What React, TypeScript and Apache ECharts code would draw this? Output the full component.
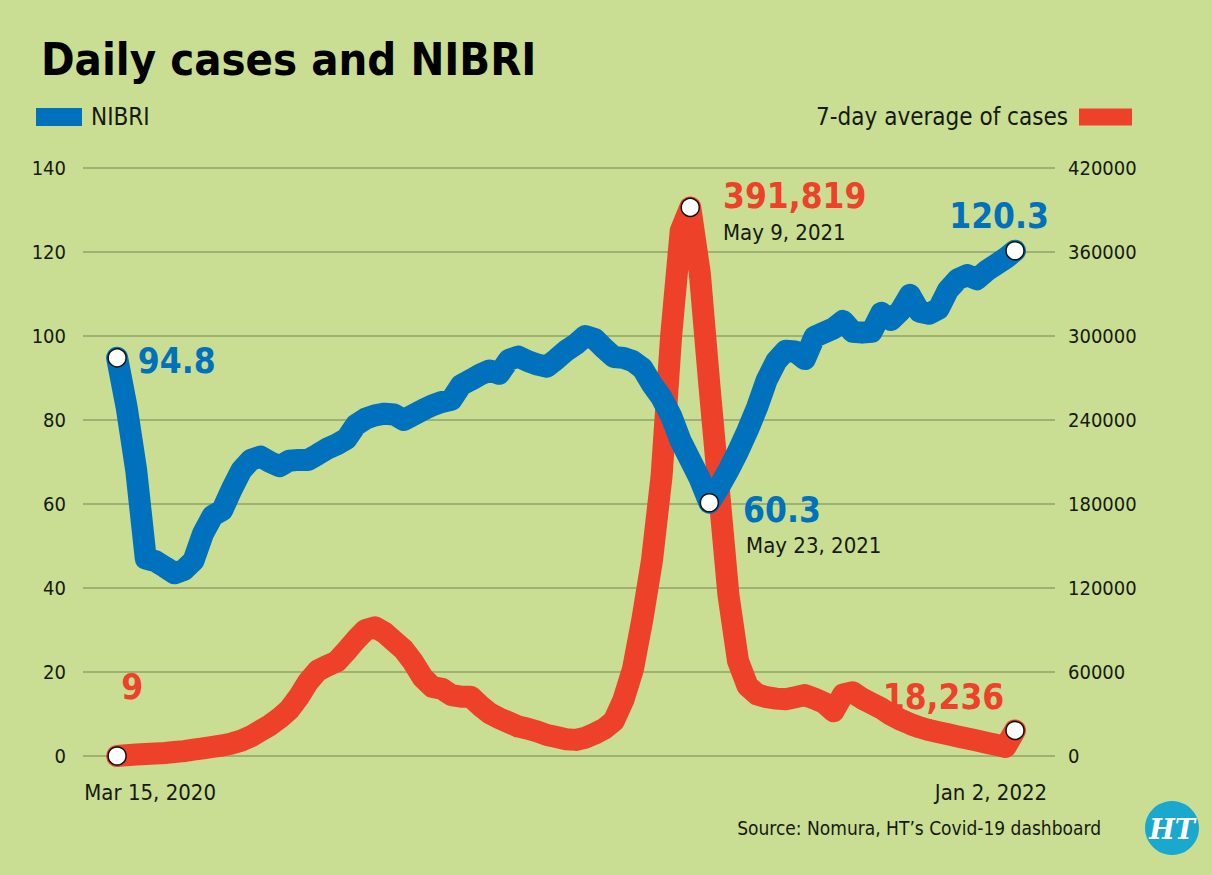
import React, { useEffect, useRef } from "react";
import * as echarts from "echarts";

// Weekly readings, starting Sunday Mar 15, 2020 and ending Jan 2, 2022
const START_DATE = Date.UTC(2020, 2, 15);
const DAY = 864e5;
const WEEK = 7 * DAY;

// Nomura India Business Resumption Index (left axis)
const nibri = [
  94.8, 83, 68, 47, 46.4, 45, 43.5, 44.3, 46.5, 53,
  57.2, 58.5, 63.5, 68, 70.5, 71.3, 70, 69, 70.3, 70.5,
  70.5, 71.8, 73.2, 74.2, 75.5, 78.8, 80.3, 81.1, 81.5, 81.3,
  80, 81.2, 82.4, 83.5, 84.3, 84.8, 88.3, 89.5, 90.8, 91.8,
  91, 94.3, 95.1, 94, 93.2, 92.7, 94.5, 96.5, 98, 100,
  99.3, 97, 95, 94.8, 94, 92.3, 88.5, 85.3, 81, 75,
  70.5, 66, 60.3, 64, 68, 72.5, 77.5, 83, 89.5, 94,
  96.5, 96.3, 94.5, 99.8, 100.8, 101.8, 103.6, 101, 100.8, 101,
  105.5, 103.8, 106, 109.8, 105.8, 105.3, 106.5, 111, 113.5, 114.5,
  113.5, 115.5, 117, 118.5, 120.3,
];

// 7-day average of daily Covid-19 cases (right axis)
const cases = [
  9, 600, 1000, 1400, 1800, 2200, 2800, 3500, 4500, 5500,
  6500, 7500, 9000, 11000, 14000, 18000, 22000, 27000, 33000, 42000,
  53000, 61000, 64500, 67500, 75000, 83000, 90000, 92000, 88000, 82000,
  76000, 67000, 56000, 49300, 48000, 43500, 42400, 42400, 36000, 30500,
  27000, 24000, 21000, 19500, 17500, 15000, 13500, 12000, 11500, 13000,
  16000, 19500, 25000, 40000, 62000, 98000, 140000, 200000, 300000, 375000,
  391819, 345000, 265000, 190000, 115000, 68000, 50000, 44000, 42000, 41000,
  40500, 42000, 43500, 41000, 38000, 32000, 44000, 45500, 41000, 37500,
  34000, 29500, 26000, 23000, 20500, 18500, 17000, 15500, 14000, 12500,
  11000, 9500, 8000, 6500, 18236,
];

// week number -> date of that reading
const dates = nibri.map((_, i) => START_DATE + i * WEEK);
const FIRST = 0;
const LAST = dates.length - 1;

// Annotated points (indices into the weekly arrays)
const nibriStartIdx = 0;
const nibriLowIdx = 62;
const nibriEndIdx = 94;
const casesStartIdx = 0;
const casesPeakIdx = 60;
const casesEndIdx = 94;

const leftTicks = { min: 0, max: 140, interval: 20 };
const rightTicks = { min: 0, max: 420000, interval: 60000 };

const BLUE = "#0071bc";
const RED = "#ee412a";
const BG = "#c9de92";
const INK = "#161a10";
const FONT = "'Liberation Sans Narrow', 'DejaVu Sans Condensed', 'Roboto', sans-serif";

const MONTHS = ["Jan", "Feb", "Mar", "Apr", "May", "Jun", "Jul", "Aug", "Sep", "Oct", "Nov", "Dec"];
const fmtDate = (t: number) => {
  const d = new Date(t);
  return `${MONTHS[d.getUTCMonth()]} ${d.getUTCDate()}, ${d.getUTCFullYear()}`;
};
const fmtCases = (v: number) => Math.round(v).toLocaleString("en-US");

const dot = {
  symbol: "circle",
  symbolSize: 18,
  itemStyle: { color: "#ffffff", borderColor: "#111111", borderWidth: 1.5 },
};

const bigNum = (color: string) => ({
  fontFamily: FONT,
  fontWeight: "bold" as const,
  fontSize: 35,
  color,
});

const dateText = { fontFamily: FONT, fontSize: 22, color: INK, lineHeight: 28 };

export default function App() {
  const ref = useRef<HTMLDivElement>(null);

  useEffect(() => {
    if (!ref.current) return;
    const chart = echarts.init(ref.current, undefined, { renderer: "svg" });

    const blueData: any[] = nibri.map((v, i) => [i, v]);
    const redData: any[] = cases.map((v, i) => [i, v]);

    blueData[nibriStartIdx] = {
      value: blueData[nibriStartIdx],
      ...dot,
      label: {
        show: true,
        position: "right",
        distance: 11,
        offset: [0, 3],
        formatter: (p: any) => p.value[1].toFixed(1),
        ...bigNum(BLUE),
      },
    };
    blueData[nibriLowIdx] = {
      value: blueData[nibriLowIdx],
      ...dot,
      label: {
        show: true,
        position: "right",
        distance: 24,
        offset: [0, 21],
        formatter: (p: any) => `{v|${p.value[1].toFixed(1)}}\n{d|${fmtDate(dates[p.dataIndex])}}`,
        rich: {
          v: { ...bigNum(BLUE), lineHeight: 44 },
          d: { ...dateText, padding: [0, 0, 0, 3] },
        },
      },
    };
    blueData[nibriEndIdx] = {
      value: blueData[nibriEndIdx],
      ...dot,
      label: {
        show: true,
        position: "top",
        distance: 7,
        offset: [-16, 0],
        formatter: (p: any) => p.value[1].toFixed(1),
        ...bigNum(BLUE),
      },
    };

    redData[casesStartIdx] = {
      value: redData[casesStartIdx],
      ...dot,
      label: {
        show: true,
        position: "top",
        distance: 42,
        offset: [15, 0],
        formatter: (p: any) => fmtCases(p.value[1]),
        ...bigNum(RED),
      },
    };
    redData[casesPeakIdx] = {
      value: redData[casesPeakIdx],
      ...dot,
      label: {
        show: true,
        position: "right",
        distance: 23,
        offset: [0, 3],
        formatter: (p: any) => `{v|${fmtCases(p.value[1])}}\n{d|${fmtDate(dates[p.dataIndex])}}`,
        rich: {
          v: { ...bigNum(RED), lineHeight: 44 },
          d: dateText,
        },
      },
    };
    redData[casesEndIdx] = {
      value: redData[casesEndIdx],
      ...dot,
      label: {
        show: true,
        position: "left",
        distance: 1,
        offset: [0, -33],
        formatter: (p: any) => fmtCases(p.value[1]),
        ...bigNum(RED),
      },
    };

    const thickLine = (color: string) => ({
      color,
      width: 22,
      cap: "round" as const,
      join: "round" as const,
    });

    chart.setOption({
      animation: false,
      backgroundColor: BG,
      textStyle: { fontFamily: FONT },
      title: {
        text: "Daily cases and NIBRI",
        left: 36,
        top: 32,
        textStyle: { fontFamily: FONT, fontWeight: "bold", fontSize: 45, color: "#000" },
      },
      legend: [
        {
          data: ["NIBRI"],
          left: 36,
          top: 105,
          padding: 0,
          icon: "rect",
          itemWidth: 46,
          itemHeight: 18,
          textStyle: { fontFamily: FONT, fontSize: 24, color: INK, padding: [0, 0, 0, 4] },
          selectedMode: false,
        },
        {
          data: ["7-day average of cases"],
          right: 80,
          top: 105,
          padding: 0,
          align: "right",
          icon: "rect",
          itemWidth: 53,
          itemHeight: 17,
          textStyle: { fontFamily: FONT, fontSize: 24, color: INK, padding: [0, 6, 0, 0] },
          selectedMode: false,
        },
      ],
      grid: { left: 83, right: 157, top: 168, bottom: 119, containLabel: false },
      xAxis: {
        type: "value",
        min: FIRST - 25 / 7,
        max: LAST + 29.3 / 7,
        axisLine: { show: false },
        axisTick: { show: false },
        splitLine: { show: false },
        axisLabel: {
          customValues: [FIRST, LAST],
          margin: 25,
          formatter: (v: number) =>
            v === FIRST ? `{a|${fmtDate(dates[FIRST])}}` : `{b|${fmtDate(dates[LAST])}}`,
          rich: {
            a: { fontFamily: FONT, fontSize: 22, color: INK, padding: [0, 0, 0, 66] },
            b: { fontFamily: FONT, fontSize: 22, color: INK, padding: [0, 48, 0, 0] },
          },
        },
      },
      yAxis: [
        {
          type: "value",
          position: "left",
          ...leftTicks,
          axisLine: { show: false },
          axisTick: { show: false },
          axisLabel: { margin: 17, fontFamily: FONT, fontSize: 20, color: INK },
          splitLine: { show: true, lineStyle: { color: "#8ca267", width: 1.7 } },
        },
        {
          type: "value",
          position: "right",
          ...rightTicks,
          axisLine: { show: false },
          axisTick: { show: false },
          axisLabel: {
            margin: 13,
            fontFamily: FONT,
            fontSize: 20,
            color: INK,
            formatter: (v: number) => String(v),
          },
          splitLine: { show: false },
        },
      ],
      series: [
        {
          name: "7-day average of cases",
          type: "line",
          yAxisIndex: 1,
          data: redData,
          color: RED,
          symbol: "none",
          showSymbol: true,
          clip: false,
          z: 2,
          lineStyle: thickLine(RED),
          itemStyle: { color: RED },
          emphasis: { disabled: true },
        },
        {
          name: "NIBRI",
          type: "line",
          yAxisIndex: 0,
          data: blueData,
          color: BLUE,
          symbol: "none",
          showSymbol: true,
          clip: false,
          z: 3,
          lineStyle: thickLine(BLUE),
          itemStyle: { color: BLUE },
          emphasis: { disabled: true },
          markLine: {
            silent: true,
            symbol: ["none", "none"],
            label: { show: false },
            lineStyle: { color: "#111", width: 1.2, type: "solid" },
            z: 1,
            data: [
              [
                { coord: [FIRST, nibri[nibriStartIdx]] },
                { coord: [FIRST, -2.9] },
              ],
              [
                { coord: [LAST, nibri[nibriEndIdx]] },
                { coord: [LAST, -3.2] },
              ],
            ],
          },
        },
      ],
      graphic: [
        {
          type: "text",
          right: 1212 - 1101,
          top: 818,
          style: {
            text: "Source: Nomura, HT\u2019s Covid-19 dashboard",
            fontFamily: FONT,
            fontSize: 19,
            fill: INK,
          },
        },
        {
          type: "circle",
          shape: { cx: 1172, cy: 828, r: 27 },
          style: { fill: "#1ba8cf" },
        },
        {
          type: "text",
          x: 1172,
          y: 829,
          style: {
            text: "HT",
            fontFamily: "'DejaVu Serif', 'Liberation Serif', serif",
            fontWeight: "bold",
            fontStyle: "italic",
            fontSize: 27,
            fill: "#ffffff",
            align: "center",
            verticalAlign: "middle",
          },
        },
      ],
    });

    return () => chart.dispose();
  }, []);

  return (
    <div
      ref={ref}
      style={{ position: "absolute", left: 0, top: 0, width: 1212, height: 875 }}
    />
  );
}
